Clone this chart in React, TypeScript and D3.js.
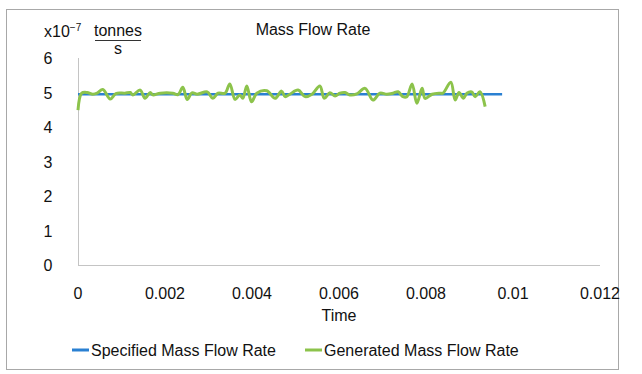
import React, { useEffect, useRef } from 'react';
import * as d3 from 'd3';

// tick values
const xTicks = [0, 0.002, 0.004, 0.006, 0.008, 0.01, 0.012];
const yTicks = [0, 1, 2, 3, 4, 5, 6];

// specified mass flow rate (x10^-7 tonnes/s)
const specifiedTime = [0, 0.00975];
const specifiedValue = [4.95, 4.95];

// generated mass flow rate
const generatedTime = [
	0, 0.000085, 0.00021, 0.00034, 0.00044, 0.00057, 0.00074, 0.00087, 0.00108, 0.0012,
	0.00126, 0.00143, 0.00154, 0.00166, 0.00172, 0.00189, 0.00218, 0.0023, 0.00241, 0.00251,
	0.00262, 0.00274, 0.00297, 0.0031, 0.00322, 0.00338, 0.00349, 0.00361, 0.00372, 0.00379,
	0.00388, 0.00399, 0.00411, 0.00434, 0.00453, 0.00468, 0.00476, 0.00487, 0.00506, 0.00522,
	0.00538, 0.00556, 0.00566, 0.00579, 0.00591, 0.00602, 0.00614, 0.00625, 0.00641, 0.0066,
	0.00678, 0.00694, 0.0071, 0.00724, 0.00736, 0.00747, 0.00756, 0.00768, 0.00779, 0.00791,
	0.00798, 0.00814, 0.00832, 0.00839, 0.00857, 0.00867, 0.00876, 0.00886, 0.00894, 0.00905,
	0.00913, 0.00924, 0.00936,
];
const generatedValue = [
	4.49, 4.98, 5.0, 4.95, 4.98, 5.09, 4.81, 4.97, 4.98, 5.0,
	4.93, 5.07, 4.83, 5.0, 4.93, 4.98, 4.98, 4.94, 5.15, 4.8,
	4.99, 4.95, 5.02, 4.83, 4.98, 4.98, 5.25, 4.8, 4.93, 4.83,
	5.19, 4.73, 4.98, 5.05, 4.83, 5.04, 4.88, 4.95, 5.07, 4.88,
	4.95, 5.19, 4.83, 4.99, 4.9, 4.98, 5.0, 4.93, 4.96, 5.12,
	4.78, 4.98, 4.95, 4.98, 5.02, 4.88, 4.88, 5.25, 4.69, 5.12,
	4.83, 4.95, 4.98, 4.98, 5.3, 4.78, 5.0, 4.83, 4.98, 5.02,
	4.88, 5.02, 4.59,
];

const legendLabels = ['Specified Mass Flow Rate', 'Generated Mass Flow Rate'];
const blue = '#2a80d2';
const green = '#8cc34b';

const App: React.FC = () => {
	const svgRef = useRef<SVGSVGElement | null>(null);

	useEffect(() => {
		if (svgRef.current == null) return;

		const width = 642;
		const height = 374;
		const font = 'Liberation Sans, Arial, Helvetica, sans-serif';

		const xScale = d3.scaleLinear().domain([0, 0.012]).range([78, 600]);
		const yScale = d3.scaleLinear().domain([0, 6]).range([265, 58]);

		const svg = d3.select(svgRef.current);
		svg.selectAll('*').remove();
		svg.attr('width', width).attr('height', height);

		svg.append('rect')
			.attr('x', 6.5).attr('y', 9.5)
			.attr('width', 612).attr('height', 360)
			.attr('fill', '#fff')
			.attr('stroke', '#a8a8a8');

		// axis lines
		svg.append('line')
			.attr('x1', xScale(0)).attr('x2', xScale(0.012))
			.attr('y1', yScale(0) + 0.5).attr('y2', yScale(0) + 0.5)
			.attr('stroke', '#c4c4c4');
		svg.append('line')
			.attr('x1', xScale(0) + 0.5).attr('x2', xScale(0) + 0.5)
			.attr('y1', yScale(6)).attr('y2', yScale(0))
			.attr('stroke', '#c4c4c4');

		const text = (x: number, y: number, s: string, anchor = 'middle', size = 16) =>
			svg.append('text')
				.attr('x', x).attr('y', y)
				.attr('text-anchor', anchor)
				.attr('font-family', font)
				.attr('font-size', size)
				.attr('fill', '#111')
				.text(s);

		yTicks.forEach(t => text(48, yScale(t) + 6, String(t)));
		xTicks.forEach(t => text(xScale(t), 299, d3.format('~g')(t)));

		text(313, 35, 'Mass Flow Rate');
		text(339, 321, 'Time');

		// unit label
		const unit = text(44, 37, 'x10', 'start');
		unit.append('tspan').attr('font-size', 10).attr('dy', -6).text('\u22127');
		text(118, 36, 'tonnes');
		svg.append('line')
			.attr('x1', 95).attr('x2', 141)
			.attr('y1', 40.5).attr('y2', 40.5)
			.attr('stroke', '#333');
		text(118, 54, 's');

		const specified = specifiedTime.map((t, i) => [t, specifiedValue[i]] as [number, number]);
		const generated = generatedTime.map((t, i) => [t, generatedValue[i]] as [number, number]);

		const line = d3.line<[number, number]>()
			.x(d => xScale(d[0]))
			.y(d => yScale(d[1]));

		svg.append('path')
			.datum(specified)
			.attr('fill', 'none')
			.attr('stroke', blue)
			.attr('stroke-width', 2.5)
			.attr('d', line);

		svg.append('path')
			.datum(generated)
			.attr('fill', 'none')
			.attr('stroke', green)
			.attr('stroke-width', 3)
			.attr('stroke-linejoin', 'round')
			.attr('d', line.curve(d3.curveCatmullRom.alpha(0.5)));

		// legend
		const legendX = [72, 305];
		const colors = [blue, green];
		legendLabels.forEach((label, i) => {
			svg.append('line')
				.attr('x1', legendX[i]).attr('x2', legendX[i] + 17)
				.attr('y1', 350).attr('y2', 350)
				.attr('stroke', colors[i])
				.attr('stroke-width', 3);
			text(legendX[i] + 19, 356, label, 'start');
		});
	}, []);

	return (
		<div style={{ position: 'absolute', left: 0, top: 0 }}>
			<svg ref={svgRef} style={{ display: 'block' }}></svg>
		</div>
	);
};

export default App;
